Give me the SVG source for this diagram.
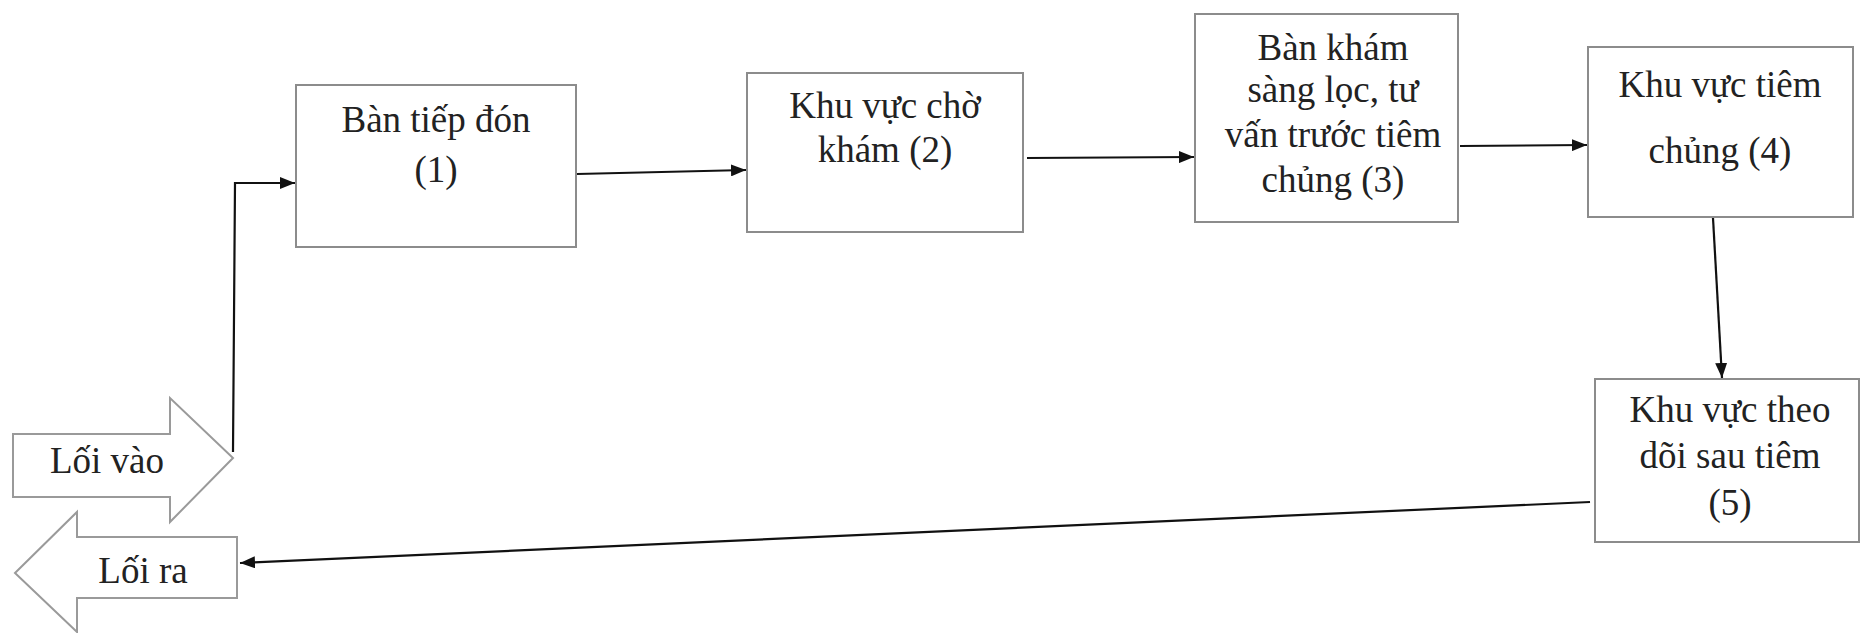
<svg xmlns="http://www.w3.org/2000/svg" width="1861" height="633" viewBox="0 0 1861 633">
<style>
.box{fill:#fff;stroke:#8c8c8c;stroke-width:2}
.big{fill:#fff;stroke:#9a9a9a;stroke-width:2;stroke-linejoin:miter}
.t{font-family:"Liberation Serif","Times New Roman",serif;font-size:37px;fill:#222;text-anchor:middle}
.c{fill:none;stroke:#111;stroke-width:2.2;marker-end:url(#ah)}
</style>
<defs>
<marker id="ah" markerUnits="userSpaceOnUse" markerWidth="16" markerHeight="12" refX="15" refY="6" orient="auto">
<path d="M0,0 L15,6 L0,12 z" fill="#111"/>
</marker>
</defs>
<rect width="1861" height="633" fill="#fff"/>
<g id="loi-vao">
<polygon class="big" points="13,434 170,434 170,398 233,458 170,522 170,497 13,497"/>
<text class="t" x="107" y="473">Lối vào</text>
</g>
<g id="loi-ra">
<polygon class="big" points="15,573 77,512 77,537 237,537 237,598 77,598 77,632"/>
<text class="t" x="143" y="583">Lối ra</text>
</g>
<g id="n1">
<rect class="box" x="296" y="85" width="280" height="162"/>
<text class="t" x="436" y="132">Bàn tiếp đón</text>
<text class="t" x="436" y="182">(1)</text>
</g>
<g id="n2">
<rect class="box" x="747" y="73" width="276" height="159"/>
<text class="t" x="885" y="118">Khu vực chờ</text>
<text class="t" x="885" y="162">khám (2)</text>
</g>
<g id="n3">
<rect class="box" x="1195" y="14" width="263" height="208"/>
<text class="t" x="1333" y="60">Bàn khám</text>
<text class="t" x="1333" y="102">sàng lọc, tư</text>
<text class="t" x="1333" y="147">vấn trước tiêm</text>
<text class="t" x="1333" y="192">chủng (3)</text>
</g>
<g id="n4">
<rect class="box" x="1588" y="47" width="265" height="170"/>
<text class="t" x="1720" y="97">Khu vực tiêm</text>
<text class="t" x="1720" y="163">chủng (4)</text>
</g>
<g id="n5">
<rect class="box" x="1595" y="379" width="264" height="163"/>
<text class="t" x="1730" y="422">Khu vực theo</text>
<text class="t" x="1730" y="468">dõi sau tiêm</text>
<text class="t" x="1730" y="515">(5)</text>
</g>
<g id="connectors">
<polyline class="c" points="233,452 235,183 295,183"/>
<line class="c" x1="577" y1="174" x2="746" y2="170"/>
<line class="c" x1="1027" y1="158" x2="1194" y2="157"/>
<line class="c" x1="1460" y1="146" x2="1587" y2="145"/>
<line class="c" x1="1713" y1="218" x2="1722" y2="378"/>
<line class="c" x1="1590" y1="502" x2="240" y2="563"/>
</g>
</svg>
